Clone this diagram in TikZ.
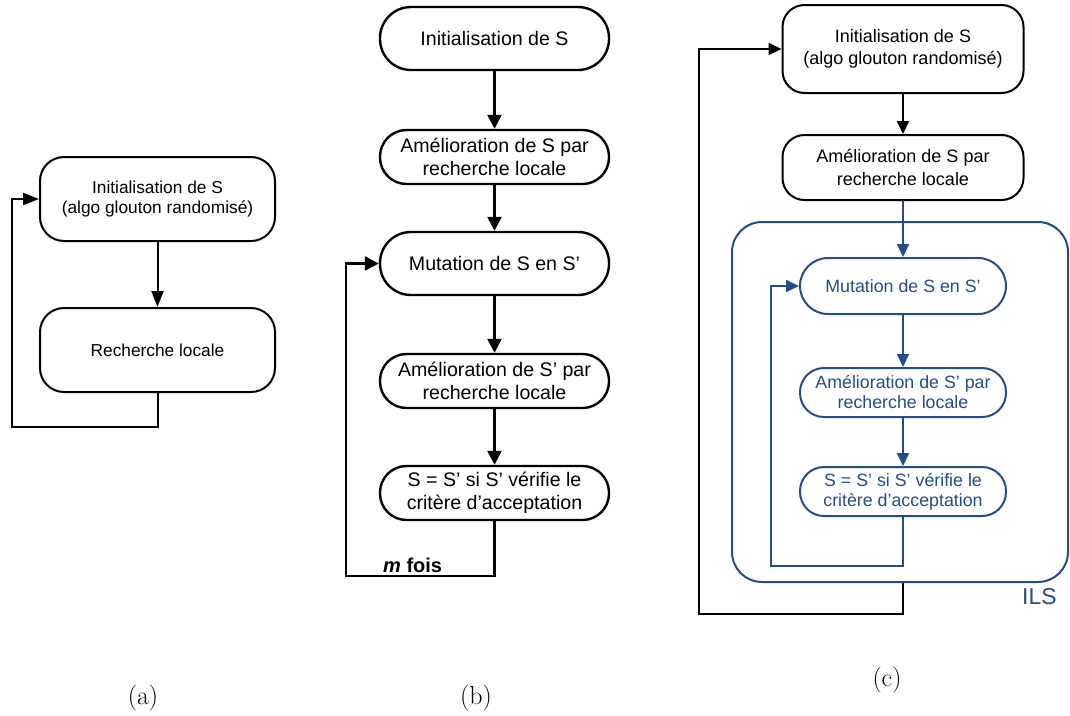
\documentclass[tikz,border=0pt]{standalone}
\usepackage{fontspec}
\newfontfamily\arialfont{Liberation Sans}
\usetikzlibrary{arrows.meta}
\definecolor{ilsblue}{RGB}{36,76,134}

\begin{document}
\begin{tikzpicture}[x=1pt,y=-1pt,
  every node/.style={inner sep=0pt, align=center},
  % panel (a)
  abox/.style={draw=black, line width=2pt, rectangle, rounded corners=24pt,
    minimum width=235pt, minimum height=84pt,
    font=\arialfont\fontsize{17.3}{20}\selectfont},
  aarr/.style={line width=2pt, -{Triangle[length=16pt,width=12pt]}},
  % panel (b)
  bbox/.style={draw=black, line width=2.4pt, rectangle,
    minimum width=229pt, font=\arialfont\fontsize{19.6}{23}\selectfont},
  barr/.style={line width=2.3pt, -{Triangle[length=14pt,width=14pt]}},
  % panel (c)
  cbox/.style={draw=black, line width=2pt, rectangle, rounded corners=22pt,
    minimum width=241pt, font=\arialfont\fontsize{18}{22.4}\selectfont},
  ibox/.style={draw=ilsblue, text=ilsblue, line width=2pt, rectangle,
    minimum width=206pt, font=\arialfont\fontsize{17.8}{20}\selectfont},
  carr/.style={line width=2pt, -{Triangle[length=13pt,width=12pt]}},
  iarr/.style={carr, draw=ilsblue, -{Triangle[length=13pt,width=12pt,fill=ilsblue]}},
  caption/.style={font=\fontsize{26}{30}\selectfont}
]
\useasboundingbox (0,0) rectangle (1070,715);

% ---------- (a) ----------
\node[abox] (a1) at (157.5,199) {Initialisation de S\\(algo glouton randomisé)};
\node[abox] (a2) at (157.5,350) {Recherche locale};
\coordinate (aL) at (12,427);
\draw[aarr] (a1.south) -- (a2.north);
\draw[aarr] (a2.south) |- (aL) |- (a1.west);
\node[caption] (capa) at (143,698) {(a)};

% ---------- (b) ----------
\node[bbox, minimum height=63pt, rounded corners=31pt] (b1) at (494.5,38.5) {Initialisation de S};
\node[bbox, minimum height=54pt, rounded corners=26.5pt] (b2) at (494.5,157) {Amélioration de S par\\recherche locale};
\node[bbox, minimum height=63pt, rounded corners=31pt] (b3) at (494.5,263.5) {Mutation de S en S’};
\node[bbox, minimum height=54pt, rounded corners=26.5pt] (b4) at (494.5,381) {Amélioration de S’ par\\recherche locale};
\node[bbox, minimum height=54pt, rounded corners=26.5pt] (b5) at (494.5,493) {S = S’ si S’ vérifie le\\critère d’acceptation};
\coordinate (bL) at (346,576);
\draw[barr] (b1.south) -- (b2.north);
\draw[barr] (b2.south) -- (b3.north);
\draw[barr] (b3.south) -- (b4.north);
\draw[barr] (b4.south) -- (b5.north);
\draw[barr] (b5.south) |- (bL) |- (b3.west);
\node[anchor=base west, font=\arialfont\bfseries\fontsize{20}{24}\selectfont] (mfois) at (383,572) {\textit{m} fois};
\node[caption] (capb) at (476,698) {(b)};

% ---------- (c) ----------
\node[cbox, minimum height=88pt] (c1) at (903,49) {Initialisation de S\\(algo glouton randomisé)};
\node[cbox, minimum height=65pt] (c2) at (903,167.5) {Amélioration de S par\\recherche locale};
\node[draw=ilsblue, line width=2pt, rounded corners=30pt,
      minimum width=336pt, minimum height=360pt] (ils) at (900,402) {};
\node[ibox, minimum height=56pt, rounded corners=28pt] (c3) at (903,286) {Mutation de S en S’};
\node[ibox, minimum height=49pt, rounded corners=24pt] (c4) at (903,392.5) {Amélioration de S’ par\\recherche locale};
\node[ibox, minimum height=49pt, rounded corners=24pt] (c5) at (903,491.5) {S = S’ si S’ vérifie le\\critère d’acceptation};
\node[anchor=base west, text=ilsblue, font=\arialfont\fontsize{23}{27}\selectfont] (ilslabel) at (1022,604) {ILS};
\coordinate (cIn) at (771,566);
\coordinate (cOut) at (699,614);
\draw[carr] (c1.south) -- (c2.north);
\draw[iarr] (c2.south) -- (c3.north);
\draw[iarr] (c3.south) -- (c4.north);
\draw[iarr] (c4.south) -- (c5.north);
\draw[iarr] (c5.south) |- (cIn) |- (c3.west);
\draw[carr] (ils.south -| c5.south) |- (cOut) |- (c1.west);
\node[caption] (capc) at (887,680) {(c)};
\end{tikzpicture}
\end{document}
